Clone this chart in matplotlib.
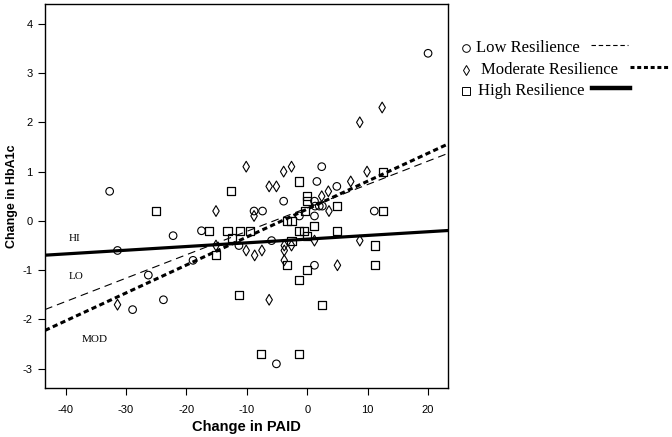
import matplotlib
matplotlib.use("Agg")
import matplotlib.pyplot as plt
from matplotlib.lines import Line2D
import numpy as np

plt.rcParams['axes.unicode_minus'] = False

# Change in PAID (x) vs change in HbA1c (y), by resilience group
low_x = [20.0, -32.7, -31.4, -22.2, -17.5, -18.9, -26.3, -23.8, -28.9, -8.8, -7.4,
         -11.3, -5.9, -5.1, 1.2, 11.1, 1.2, -1.3, -3.9, 1.2, 1.3, 2.0, 2.5, 2.4,
         1.6, 4.9]
low_y = [3.40, 0.60, -0.60, -0.30, -0.20, -0.80, -1.10, -1.60, -1.80, 0.20, 0.20,
         -0.50, -0.40, -2.90, -0.90, 0.20, 0.10, 0.10, 0.40, 0.40, 0.30, 0.30, 0.30, 1.10,
         0.80, 0.70]

mod_x = [12.4, 8.7, -10.1, -3.9, -2.6, -6.3, -5.1, 7.2, 9.9, 2.4, 3.5, 3.6, -15.1,
         -8.8, -15.1, -10.1, -7.5, -8.7, -3.8, -3.8, -3.8, -2.6, 1.2, 8.7, 5.0, -6.3,
         -31.4]
mod_y = [2.30, 2.00, 1.10, 1.00, 1.10, 0.70, 0.70, 0.80, 1.00, 0.50, 0.60, 0.20, 0.20,
         0.10, -0.50, -0.60, -0.60, -0.70, -0.50, -0.60, -0.80, -0.50, -0.40, -0.40, -0.90,
         -1.60, -1.70]

high_x = [-25.1, -12.6, -1.3, -0.1, 5.0, 12.5, 12.5, -0.4, -3.4, -2.6, 1.1, -1.3, -0.5,
          5.0, -0.1, -2.6, -16.3, -13.2, -11.1, -9.5, -12.4, -15.1, 11.2, 11.2, -3.4,
          -0.1, -1.3, -11.3, 2.4, -7.6, -1.3, 0.0]
high_y = [0.20, 0.60, 0.80, 0.50, 0.30, 1.00, 0.20, 0.20, 0.00, 0.00, -0.10, -0.20, -0.20,
          -0.20, -0.30, -0.40, -0.20, -0.20, -0.20, -0.20, -0.35, -0.70, -0.50, -0.90, -0.90,
          -1.00, -1.20, -1.50, -1.70, -2.70, -2.70, 0.40]

# fit lines: intercept, slope
low_fit = (0.263, 0.0475)
mod_fit = (0.239, 0.0567)
high_fit = (-0.37, 0.0075)

x_ticks = [-40, -30, -20, -10, 0, 10, 20]
y_ticks = [-3, -2, -1, 0, 1, 2, 3, 4]
xlim = (-43.4, 23.3)
ylim = (-3.39, 4.40)

W, H = 672, 437
fig = plt.figure(figsize=(W / 100, H / 100), dpi=100)
ax = fig.add_axes([45 / W, 1 - 388 / H, (448 - 45) / W, (388 - 4) / H])

ax.scatter(low_x, low_y, s=30, marker='o', facecolors='none', edgecolors='black', linewidths=0.8, zorder=3)
ax.scatter(mod_x, mod_y, s=30, marker='d', facecolors='none', edgecolors='black', linewidths=0.8, zorder=3)
ax.scatter(high_x, high_y, s=34, marker='s', facecolors='none', edgecolors='black', linewidths=0.9, zorder=3)

xs = np.array(xlim)
ax.plot(xs, low_fit[0] + low_fit[1] * xs, color='black', lw=0.8, dashes=(7, 4.5), zorder=4)
ax.plot(xs, mod_fit[0] + mod_fit[1] * xs, color='black', lw=2.2, dashes=(1.7, 1.1), zorder=4)
ax.plot(xs, high_fit[0] + high_fit[1] * xs, color='black', lw=2.3, zorder=4)

serif = ['Liberation Serif', 'DejaVu Serif']
ax.text(-39.5, -0.35, 'HI', family=serif, fontsize=8, va='center')
ax.text(-39.4, -1.13, 'LO', family=serif, fontsize=8, va='center')
ax.text(-37.3, -2.41, 'MOD', family=serif, fontsize=8, va='center')

ax.set_xlim(*xlim)
ax.set_ylim(*ylim)
ax.set_xticks(x_ticks)
ax.set_yticks(y_ticks)
ax.tick_params(direction='out', length=5, width=0.8, labelsize=8, pad=4)
ax.tick_params(axis='x', pad=7)
for s in ax.spines.values():
    s.set_linewidth(1.0)
ax.set_xlabel('Change in PAID', family='Liberation Sans', fontweight='bold', fontsize=10.5, labelpad=4)
ax.set_ylabel('Change in HbA1c', family='Liberation Sans', fontweight='bold', fontsize=9)
ax.yaxis.set_label_coords(-0.066, 0.5)
for lab in ax.get_xticklabels() + ax.get_yticklabels():
    lab.set_family('Liberation Sans')

# legend drawn by hand: marker, label, line sample
def fx(px):
    return px / W

def fy(py):
    return 1 - py / H

rows = [
    (48, 'o', 'Low Resilience', 476, (591, 628), dict(lw=0.8, dashes=(4, 2.5))),
    (70, 'd', 'Moderate Resilience', 481, (630, 670), dict(lw=2.2, dashes=(1.3, 0.9))),
    (91, 's', 'High Resilience', 478, (592, 630), dict(lw=3.2)),
]
for py, mk, label, tx, (l0, l1), style in rows:
    fig.add_artist(Line2D([fx(466)], [fy(py)], marker=mk, markersize=5.5 if mk != 's' else 6,
                          markerfacecolor='none', markeredgecolor='black', markeredgewidth=0.7,
                          linestyle='none'))
    fig.text(fx(tx), fy(py), label, family=serif, fontsize=12, va='center', ha='left')
    fig.add_artist(Line2D([fx(l0), fx(l1)], [fy(py - 3), fy(py - 3)], color='black', **style))

fig.savefig('out.png', dpi=100)
